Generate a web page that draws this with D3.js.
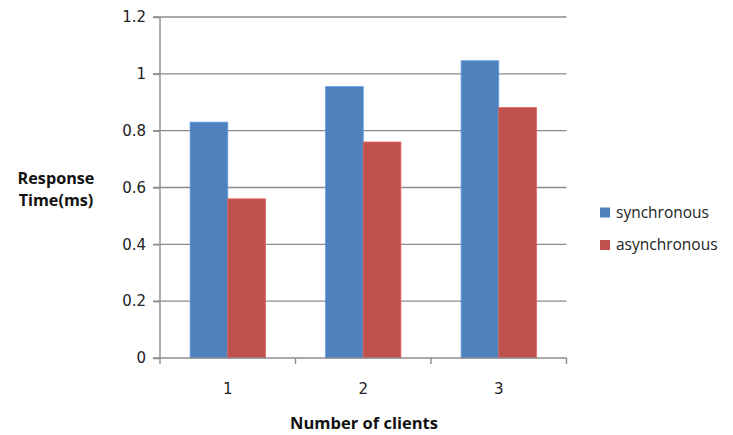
<!DOCTYPE html>
<html>
<head>
<meta charset="utf-8">
<script src="https://cdn.jsdelivr.net/npm/d3@7/dist/d3.min.js"></script>
<style>
  html, body { margin: 0; padding: 0; background: #fff; }
  svg { display: block; }
</style>
</head>
<body>
<svg id="chart" width="733" height="435"></svg>
<script>
// Response time per number of clients, synchronous vs asynchronous calls
const categories = ["1", "2", "3"];
const seriesNames = ["synchronous", "asynchronous"];
const synchronous = [0.83, 0.955, 1.046];
const asynchronous = [0.56, 0.76, 0.881];
const yTicks = [0, 0.2, 0.4, 0.6, 0.8, 1, 1.2];
const colors = ["#4F81BD", "#C0504D"];

const svg = d3.select("#chart");
const plotLeft = 160, plotRight = 566.5, plotTop = 17, plotBottom = 358;

const x0 = d3.scaleBand().domain(categories).range([plotLeft, plotRight]).paddingInner(0).paddingOuter(0);
const x1 = d3.scaleBand().domain(seriesNames).range([0, x0.bandwidth()]).paddingInner(0).paddingOuter(0.8);
const y = d3.scaleLinear().domain([0, 1.2]).range([plotBottom, plotTop]);

const tickFont = "'DejaVu Sans', Verdana, sans-serif";
const titleFont = "'Open Sans', Lato, sans-serif";
const gridColor = "#8c8c8c";

// horizontal gridlines
svg.append("g").selectAll("line").data(yTicks.filter(d => d > 0)).join("line")
  .attr("x1", plotLeft - 7).attr("x2", plotRight)
  .attr("y1", d => y(d)).attr("y2", d => y(d))
  .attr("stroke", gridColor).attr("stroke-width", 1.4);

// bars
const rows = categories.map((c, i) => ({ cat: c, values: [synchronous[i], asynchronous[i]] }));
const groups = svg.append("g").selectAll("g").data(rows).join("g")
  .attr("transform", d => `translate(${x0(d.cat)},0)`);
groups.selectAll("rect").data(d => d.values.map((v, j) => ({ key: seriesNames[j], v, j }))).join("rect")
  .attr("x", d => x1(d.key))
  .attr("width", x1.bandwidth())
  .attr("y", d => y(d.v))
  .attr("height", d => y(0) - y(d.v))
  .attr("fill", d => colors[d.j])
  .attr("stroke", d => d3.color(colors[d.j]).brighter(0.5))
  .attr("stroke-width", 0.8);

// y axis
const yAxis = d3.axisLeft(y).tickValues(yTicks).tickSize(7).tickPadding(7).tickFormat(d3.format("~g"));
const gy = svg.append("g").attr("transform", `translate(${plotLeft},0)`).call(yAxis);
gy.select(".domain").attr("stroke", gridColor).attr("stroke-width", 1.4).attr("d", `M0,${plotTop}V${plotBottom}`);
gy.selectAll(".tick line").attr("stroke", gridColor).attr("stroke-width", 1.4);
gy.selectAll(".tick text").attr("font-family", tickFont).attr("font-size", 15).attr("fill", "#222");

// x axis with ticks at category boundaries
const gx = svg.append("g").attr("transform", `translate(0,${plotBottom})`);
gx.append("line").attr("x1", plotLeft - 7).attr("x2", plotRight).attr("y1", 0).attr("y2", 0)
  .attr("stroke", gridColor).attr("stroke-width", 1.4);
const bounds = categories.map(c => x0(c)).concat([x0(categories[categories.length - 1]) + x0.bandwidth()]);
gx.selectAll("line.b").data(bounds).join("line").attr("class", "b")
  .attr("x1", d => d).attr("x2", d => d).attr("y1", 0).attr("y2", 6)
  .attr("stroke", gridColor).attr("stroke-width", 1.4);
gx.selectAll("text").data(categories).join("text")
  .attr("x", d => x0(d) + x0.bandwidth() / 2).attr("y", 36)
  .attr("text-anchor", "middle")
  .attr("font-family", tickFont).attr("font-size", 15).attr("fill", "#222")
  .text(d => d);

// axis titles
svg.append("text").attr("x", 364).attr("y", 429).attr("text-anchor", "middle")
  .attr("font-family", titleFont).attr("font-weight", "bold").attr("font-size", 16.5).attr("fill", "#111")
  .text("Number of clients");
const yt = svg.append("text").attr("text-anchor", "middle")
  .attr("font-family", titleFont).attr("font-weight", "bold").attr("font-size", 16.2).attr("fill", "#111");
yt.append("tspan").attr("x", 56).attr("y", 184).text("Response");
yt.append("tspan").attr("x", 56).attr("y", 206).text("Time(ms)");

// legend
const lg = svg.append("g").selectAll("g").data(seriesNames).join("g")
  .attr("transform", (d, i) => `translate(600,${212.5 + i * 32.5})`);
lg.append("rect").attr("x", 0).attr("y", -5).attr("width", 10).attr("height", 10)
  .attr("fill", (d, i) => colors[i]);
lg.append("text").attr("x", 16).attr("y", 5)
  .attr("font-family", titleFont).attr("font-size", 15.5).attr("fill", "#222")
  .text(d => d);
</script>
</body>
</html>
